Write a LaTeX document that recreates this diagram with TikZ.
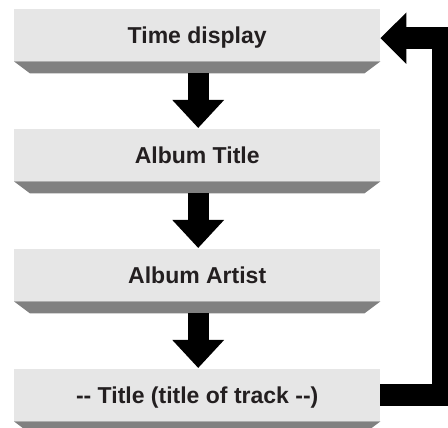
\documentclass[tikz,border=0pt]{standalone}
\usepackage{fontspec}
\setmainfont{Liberation Sans}
\usetikzlibrary{arrows.meta,calc}
\definecolor{facegray}{HTML}{E6E6E6}
\definecolor{shadegray}{HTML}{808080}
\definecolor{txtcol}{HTML}{231F20}
\begin{document}
\begin{tikzpicture}[x=1pt,y=1pt,
  stepbox/.style={fill=facegray, minimum width=366pt, minimum height=52pt, inner sep=0pt,
    text height=18pt, text depth=2pt,
    font=\fontsize{23}{27}\selectfont\bfseries, text=txtcol, anchor=north west},
  shadowfill/.style={fill=shadegray},
  downarrow/.style={line width=21pt, -{Triangle[length=28pt,width=50pt]}},
  backarrow/.style={line width=22pt, line join=miter, -{Triangle[length=26pt,width=50pt]}}
  ]
\useasboundingbox (0,0) rectangle (448,428);
\clip (0,0) rectangle (448,428);
\node[stepbox] (a) at (14,419) {Time display};
\node[stepbox] (b) at (14,299) {Album Title};
\node[stepbox] (c) at (14,179) {Album Artist};
\node[stepbox] (d) at (14,59) {{-}{-} Title (title of track {-}{-})};
\foreach \n in {a,b,c,d}{
  \fill[shadowfill] (\n.south west) -- (\n.south east) -- ([shift={(-16,-12)}]\n.south east) -- ([shift={(16,-12)}]\n.south west) -- cycle;
}
\draw[downarrow] ([shift={(1,-12)}]a.south) -- ([shift={(1,1)}]b.north);
\draw[downarrow] ([shift={(1,-12)}]b.south) -- ([shift={(1,1)}]c.north);
\draw[downarrow] ([shift={(1,-12)}]c.south) -- ([shift={(1,1)}]d.north);
\coordinate (backin) at ([shift={(0,-3)}]a.east);
\draw[backarrow] (d.east) -- ++(63,0) |- (backin);
\end{tikzpicture}
\end{document}
